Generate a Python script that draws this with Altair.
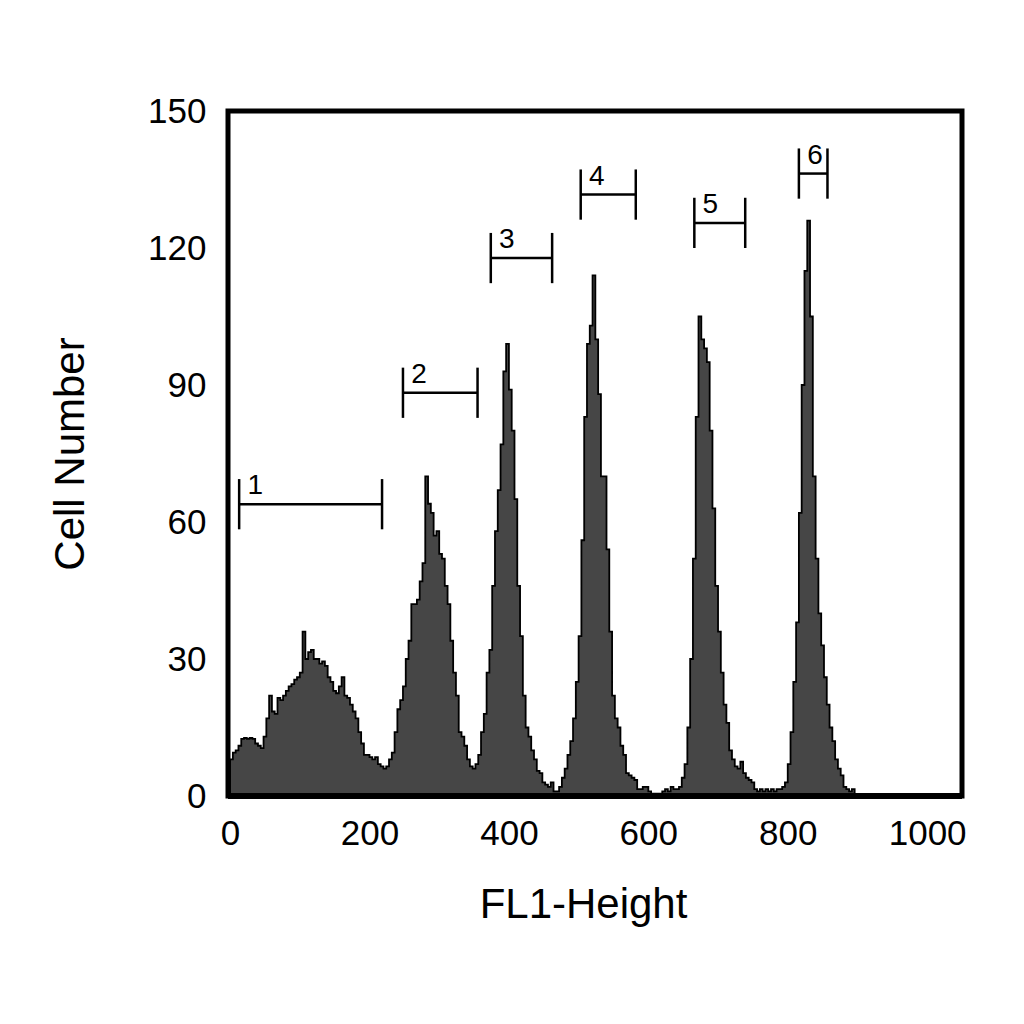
import altair as alt
import pandas as pd

# FL1-Height histogram, 4 channels per bin, starting at channel 0
bin_width = 4
counts = [
    8, 9.5, 10, 11, 12.5, 12.7, 12.5, 12.7, 12.5, 11.5,
    11, 10.5, 13, 17, 22, 18.5, 18, 21.5, 21, 22,
    23, 24, 24.5, 25.5, 26, 27, 36, 30, 31.5, 32,
    30, 30, 29, 29.5, 28.5, 26, 25, 23, 22.5, 24,
    26, 22, 21.5, 20, 18.5, 17, 14, 11.5, 9, 9,
    8.5, 8, 8.5, 7, 6.5, 6, 6.5, 8, 9.5, 14,
    19, 21, 24, 30, 34, 42, 42, 43, 47, 51,
    70, 64, 62, 57, 58, 53, 52, 46, 42, 34,
    27, 22, 14, 13, 11, 8, 6.5, 6, 7, 9,
    14, 18, 27, 32, 46, 58, 67, 77, 93, 99,
    89, 80, 65, 46, 35, 22, 15, 13, 10, 8,
    5.5, 5, 3, 2.5, 2, 3, 1, 1, 2, 4,
    6, 9, 12, 17, 25, 35, 56, 83, 99, 103,
    114, 100, 88, 70, 70, 54, 36, 22, 17, 15,
    11, 9, 5, 4.5, 4, 3.5, 1.5, 1.5, 2, 2,
    1, 0.5, 0.5, 0.5, 0.5, 1, 1.5, 1, 2, 1.5,
    1.5, 2, 4, 7, 15, 30, 52, 83, 105, 100,
    98, 95, 80, 63, 46, 36, 27, 20, 16, 10,
    8, 6.5, 6, 7.5, 5, 4, 3.5, 3, 1.5, 1,
    1.5, 1, 1.5, 1, 1.5, 1, 1.5, 1.5, 2, 3,
    7, 14, 25, 38, 62, 90, 115, 126, 105, 70,
    52, 40, 33, 26, 20, 15, 12, 8, 6, 4.5,
    2, 1.5, 1, 1.5, 0,
]

x_ticks = [0, 200, 400, 600, 800, 1000]
y_ticks = [0, 30, 60, 90, 120, 150]

# marker gates drawn above the peaks
gate_labels = ["1", "2", "3", "4", "5", "6"]
gate_start = [13, 248, 374, 503, 666, 816]
gate_end = [218, 355, 462, 582, 739, 857]
gate_level = [63.9, 88.3, 117.8, 131.7, 125.5, 136.3]

hist = pd.DataFrame({
    "channel": [i * bin_width for i in range(len(counts) + 1)],
    "count": counts + [0],
})
gates = pd.DataFrame({
    "label": gate_labels,
    "start": gate_start,
    "end": gate_end,
    "level": gate_level,
})

x_title = "FL1-Height"
y_title = "Cell Number"
x_scale = alt.Scale(domain=[-3, 1050], nice=False, zero=False)
y_scale = alt.Scale(domain=[0, 150], nice=False)

area = alt.Chart(hist).mark_area(
    interpolate="step-after",
    fill="#464646",
    stroke="black",
    strokeWidth=1.8,
).encode(
    x=alt.X("channel:Q", scale=x_scale, title=x_title,
            axis=alt.Axis(values=x_ticks, format="d", labelPadding=20,
                          titlePadding=33, titleX=355)),
    y=alt.Y("count:Q", scale=y_scale, title=y_title,
            axis=alt.Axis(values=y_ticks, format="d", labelPadding=22,
                          titlePadding=55)),
)

gate_bars = alt.Chart(gates).mark_rule(color="black", strokeWidth=2.5).encode(
    x=alt.X("start:Q", scale=x_scale, title=x_title),
    x2="end:Q",
    y=alt.Y("level:Q", scale=y_scale, title=y_title),
)

gate_ends = alt.Chart(gates).transform_fold(
    ["start", "end"], as_=["side", "pos"]
).transform_calculate(
    top="datum.level + 5.5",
    bottom="datum.level - 5.5",
).mark_rule(color="black", strokeWidth=2.5).encode(
    x=alt.X("pos:Q", scale=x_scale, title=x_title),
    y=alt.Y("top:Q", scale=y_scale, title=y_title),
    y2="bottom:Q",
)

gate_text = alt.Chart(gates).transform_calculate(
    lx="datum.start + 23",
    ly="datum.level + 2.2",
).mark_text(
    font="Liberation Sans",
    fontSize=28,
    baseline="alphabetic",
    align="center",
    color="black",
).encode(
    x=alt.X("lx:Q", scale=x_scale, title=x_title),
    y=alt.Y("ly:Q", scale=y_scale, title=y_title),
    text="label:N",
)

# bottom frame edge redrawn over the histogram
baseline = alt.Chart(gates).mark_rule(color="black", strokeWidth=5).encode(
    y=alt.datum(0, scale=y_scale, title=y_title),
)

chart = alt.layer(area, gate_bars, gate_ends, gate_text, baseline).properties(
    width=734,
    height=685,
    autosize=alt.AutoSizeParams(type="none"),
    padding={"left": 220, "top": 103, "right": 40, "bottom": 200},
    background="white",
).configure_view(
    stroke="black",
    strokeWidth=5,
).configure_axis(
    grid=False,
    ticks=False,
    domain=False,
    labelFont="Liberation Sans",
    titleFont="Liberation Sans",
    labelFontSize=35,
    titleFontSize=42,
    labelColor="black",
    titleColor="black",
    titleFontWeight="normal",
)

chart.save("out.html", embed_options={"renderer": "svg", "actions": False})
